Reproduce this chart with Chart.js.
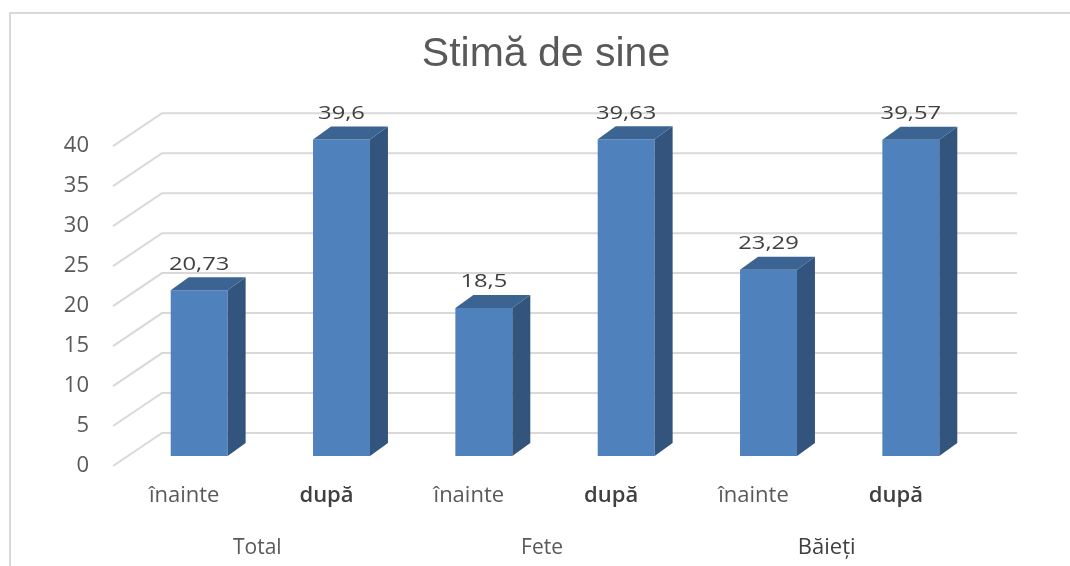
<!DOCTYPE html>
<html><head><meta charset="utf-8">
<script src="https://cdn.jsdelivr.net/npm/chart.js@4.4.0/dist/chart.umd.min.js"></script>
<style>html,body{margin:0;padding:0;background:#fff;}#wrap{width:1070px;height:566px;position:relative}</style>
</head><body><div id="wrap"><canvas id="c" width="1070" height="566"></canvas></div>
<script>
const groups = ['Total', 'Fete', 'Băieți'];
const categories = ['înainte', 'după', 'înainte', 'după', 'înainte', 'după'];
const values = [20.73, 39.6, 18.5, 39.63, 23.29, 39.57];
const yMin = 0, yMax = 40, yStep = 5;

const FONT = "'Open Sans', 'DejaVu Sans', sans-serif";
const DEPTH = {dx: 18, dy: -13};
const WALL = {front: {dx: -15, dy: 10}, back: {dx: 34, dy: -23}, rightExtra: 35};

const framePlugin = {
  id: 'frame',
  beforeDraw(chart) {
    const ctx = chart.ctx;
    ctx.save();
    ctx.fillStyle = '#fff';
    ctx.fillRect(0, 0, chart.width, chart.height);
    ctx.strokeStyle = '#d9d9d9';
    ctx.lineWidth = 2;
    ctx.beginPath();
    ctx.moveTo(10, chart.height);
    ctx.lineTo(10, 13);
    ctx.lineTo(chart.width, 13);
    ctx.stroke();
    ctx.restore();
  }
};

const gridPlugin = {
  id: 'grid3d',
  beforeDatasetsDraw(chart) {
    const ctx = chart.ctx, ys = chart.scales.y, ca = chart.chartArea;
    ctx.save();
    ctx.strokeStyle = '#d9d9d9';
    ctx.lineWidth = 2;
    ys.ticks.forEach(t => {
      const y = ys.getPixelForValue(t.value);
      ctx.beginPath();
      ctx.moveTo(ca.left + WALL.front.dx, y + WALL.front.dy);
      ctx.lineTo(ca.left + WALL.back.dx, y + WALL.back.dy);
      ctx.lineTo(ca.right + WALL.rightExtra, y + WALL.back.dy);
      ctx.stroke();
    });
    ctx.restore();
  }
};

const bar3dPlugin = {
  id: 'bar3d',
  afterDatasetsDraw(chart) {
    const ctx = chart.ctx;
    const meta = chart.getDatasetMeta(0);
    ctx.save();
    meta.data.forEach(el => {
      const {x, y, width, base} = el.getProps(['x', 'y', 'width', 'base'], true);
      const l = x - width / 2, r = x + width / 2;
      ctx.fillStyle = '#33547C';
      ctx.beginPath();
      ctx.moveTo(r, y);
      ctx.lineTo(r + DEPTH.dx, y + DEPTH.dy);
      ctx.lineTo(r + DEPTH.dx, base + DEPTH.dy);
      ctx.lineTo(r, base);
      ctx.closePath();
      ctx.fill();
      ctx.fillStyle = '#3C6492';
      ctx.beginPath();
      ctx.moveTo(l, y);
      ctx.lineTo(l + DEPTH.dx, y + DEPTH.dy);
      ctx.lineTo(r + DEPTH.dx, y + DEPTH.dy);
      ctx.lineTo(r, y);
      ctx.closePath();
      ctx.fill();
    });
    // value labels
    ctx.fillStyle = '#404040';
    ctx.font = "19px " + FONT;
    ctx.textAlign = 'center';
    ctx.textBaseline = 'middle';
    meta.data.forEach((el, i) => {
      const {x, y} = el.getProps(['x', 'y'], true);
      const txt = String(values[i]).replace('.', ',');
      ctx.save();
      ctx.translate(x, y - 26);
      ctx.scale(1.25, 1);
      ctx.fillText(txt, 0, 0);
      ctx.restore();
    });
    ctx.restore();
  }
};

new Chart(document.getElementById('c'), {
  type: 'bar',
  data: {
    labels: categories,
    datasets: [{
      data: values,
      backgroundColor: '#4F81BD',
      borderWidth: 0,
      barPercentage: 0.4,
      categoryPercentage: 1.0,
      clip: false
    }]
  },
  options: {
    responsive: false,
    animation: false,
    devicePixelRatio: 1,
    layout: {padding: {left: 22, right: 0, top: 0, bottom: 0}},
    plugins: {
      legend: {display: false},
      tooltip: {enabled: false},
      title: {
        display: true,
        text: 'Stimă de sine',
        color: '#595959',
        font: {family: "'Liberation Sans', Arial, sans-serif", size: 41, weight: 'normal', lineHeight: 1.2},
        padding: {top: 30, bottom: 57}
      }
    },
    scales: {
      y: {
        min: yMin, max: yMax,
        grid: {display: false, drawTicks: false},
        border: {display: false},
        ticks: {stepSize: yStep, color: '#595959', font: {family: FONT, size: 22}, padding: 39, labelOffset: 10},
        afterFit(s) { s.width = 106; }
      },
      yR: {
        position: 'right',
        display: true,
        grid: {display: false, drawTicks: false},
        border: {display: false},
        ticks: {display: false},
        afterFit(s) { s.width = 88; }
      },
      x: {
        grid: {display: false, drawTicks: false},
        border: {display: false},
        ticks: {
          color: c => (c.index % 2 ? '#404040' : '#595959'),
          font: c => ({family: FONT, size: 22, weight: (c.index % 2 ? '600' : 'normal')}),
          padding: 27, labelOffset: -15, maxRotation: 0, autoSkip: false
        },
        afterFit(s) { s.height = 65; }
      },
      x2: {
        type: 'category',
        labels: groups,
        position: 'bottom',
        offset: true,
        grid: {display: false, drawTicks: false},
        border: {display: false},
        ticks: {
          color: c => (c.index === 2 ? '#404040' : '#595959'),
          font: c => ({family: FONT, size: c.index === 2 ? 22 : 21}),
          padding: 14, labelOffset: -13, maxRotation: 0
        },
        afterFit(s) { s.height = 45; }
      }
    }
  },
  plugins: [framePlugin, gridPlugin, bar3dPlugin]
});
</script>
</body></html>
